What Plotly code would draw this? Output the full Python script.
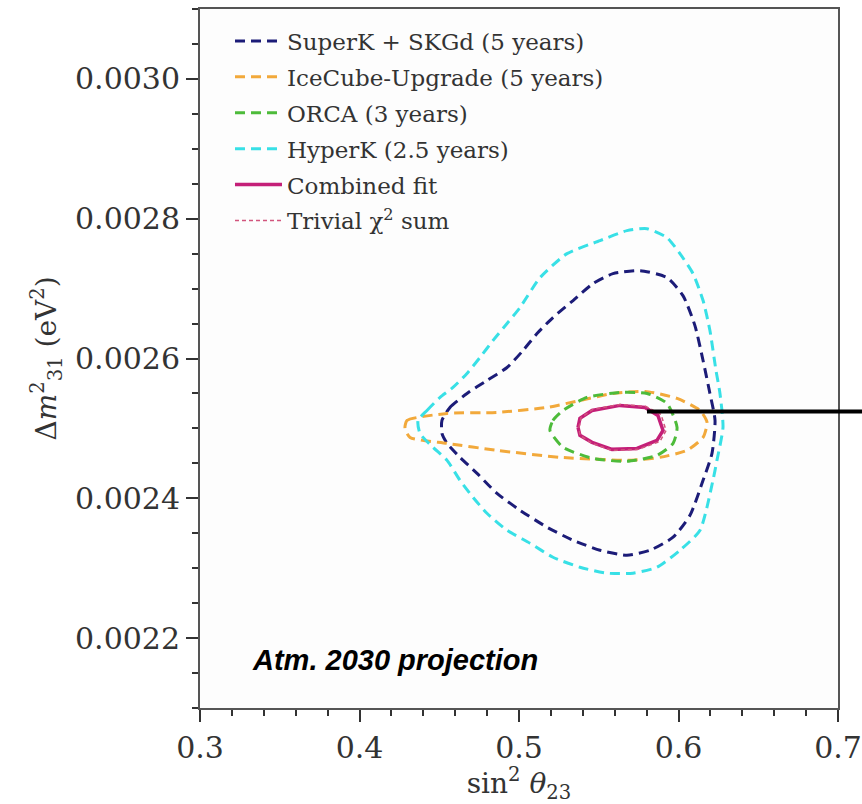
import plotly.graph_objects as go

# ---- data ----
hyperk_x = [0.4367, 0.4423, 0.4505, 0.4586, 0.4674, 0.4755, 0.4837, 0.4925, 0.5006, 0.5132,
            0.5301, 0.5508, 0.5677, 0.5803, 0.5928, 0.6009, 0.6091, 0.6154, 0.6197, 0.6235,
            0.6260, 0.6279, 0.6241, 0.6216, 0.6135, 0.6009, 0.5865, 0.5715, 0.5552, 0.5382,
            0.5213, 0.5069, 0.4925, 0.4799, 0.4712, 0.4630, 0.4549, 0.4461, 0.4379, 0.4367]
hyperk_y = [0.0025114, 0.0025257, 0.0025443, 0.0025586, 0.0025786, 0.0026014, 0.0026257, 0.0026500,
            0.0026729, 0.0027157, 0.0027500, 0.0027686, 0.0027829, 0.0027857, 0.0027729, 0.0027500,
            0.0027214, 0.0026829, 0.0026400, 0.0025829, 0.0025500, 0.0025014, 0.0024543, 0.0024257,
            0.0023543, 0.0023257, 0.0023014, 0.0022929, 0.0022929, 0.0023014, 0.0023157, 0.0023357,
            0.0023543, 0.0023786, 0.0024014, 0.0024257, 0.0024543, 0.0024729, 0.0024929, 0.0025114]

superk_x = [0.4517, 0.4567, 0.4674, 0.4799, 0.4925, 0.5025, 0.5113, 0.5213, 0.5339, 0.5464,
            0.5589, 0.5759, 0.5928, 0.6028, 0.6103, 0.6154, 0.6197, 0.6229, 0.6210, 0.6154,
            0.6072, 0.5966, 0.5821, 0.5677, 0.5508, 0.5339, 0.5176, 0.5006, 0.4862, 0.4737,
            0.4630, 0.4549, 0.4517, 0.4517]
superk_y = [0.0025114, 0.0025300, 0.0025500, 0.0025686, 0.0025871, 0.0026114, 0.0026357, 0.0026586,
            0.0026829, 0.0027071, 0.0027214, 0.0027257, 0.0027157, 0.0026900, 0.0026471, 0.0025971,
            0.0025500, 0.0025114, 0.0024643, 0.0024257, 0.0023757, 0.0023443, 0.0023257, 0.0023186,
            0.0023257, 0.0023400, 0.0023586, 0.0023829, 0.0024071, 0.0024357, 0.0024586, 0.0024786,
            0.0024929, 0.0025114]

icecube_x = [0.4285, 0.4298, 0.4549, 0.4862, 0.5176, 0.5382, 0.5589, 0.5790, 0.5991, 0.6135,
             0.6179, 0.6154, 0.6053, 0.5884, 0.5677, 0.5508, 0.5257, 0.4862, 0.4549, 0.4317, 0.4285]
icecube_y = [0.0025000, 0.0025114, 0.0025214, 0.0025229, 0.0025300, 0.0025400, 0.0025500, 0.0025529,
             0.0025429, 0.0025257, 0.0025086, 0.0024871, 0.0024686, 0.0024586, 0.0024543, 0.0024557,
             0.0024586, 0.0024686, 0.0024786, 0.0024871, 0.0025000]

orca_x = [0.5194, 0.5213, 0.5276, 0.5426, 0.5633, 0.5803, 0.5928, 0.5991, 0.5966, 0.5865,
          0.5677, 0.5464, 0.5276, 0.5194]
orca_y = [0.0024971, 0.0025114, 0.0025257, 0.0025443, 0.0025514, 0.0025500, 0.0025357, 0.0025014,
          0.0024786, 0.0024614, 0.0024529, 0.0024571, 0.0024729, 0.0024971]

combined_x = [0.5370, 0.5382, 0.5458, 0.5633, 0.5790, 0.5871, 0.5903, 0.5865, 0.5740, 0.5583,
              0.5458, 0.5382, 0.5370]
combined_y = [0.0025014, 0.0025143, 0.0025257, 0.0025329, 0.0025300, 0.0025186, 0.0024971, 0.0024829,
              0.0024714, 0.0024700, 0.0024800, 0.0024900, 0.0025014]

trivial_x = [0.5376, 0.5389, 0.5464, 0.5633, 0.5796, 0.5890, 0.5922, 0.5884, 0.5746, 0.5583,
             0.5458, 0.5382, 0.5376]
trivial_y = [0.0025014, 0.0025157, 0.0025271, 0.0025343, 0.0025314, 0.0025200, 0.0024971, 0.0024814,
             0.0024700, 0.0024686, 0.0024786, 0.0024900, 0.0025014]

series_names = ["SuperK + SKGd (5 years)", "IceCube-Upgrade (5 years)", "ORCA (3 years)",
                "HyperK (2.5 years)", "Combined fit", "Trivial χ<sup>2</sup> sum"]

# pointer line (black) at the combined-fit level
pointer_y = 0.0025243
pointer_x_paper = [0.7006, 1.04]

x_tick_vals = [0.3, 0.4, 0.5, 0.6, 0.7]
y_tick_vals = [0.0022, 0.0024, 0.0026, 0.0028, 0.0030]

SERIF = "DejaVu Serif"

fig = go.Figure()

specs = [
    (superk_x, superk_y, series_names[0], "#1c1c78", 3, "10px,6px", "spline"),
    (icecube_x, icecube_y, series_names[1], "#f2a93b", 3, "10px,6px", "spline"),
    (orca_x, orca_y, series_names[2], "#4dbb3a", 3, "10px,6px", "spline"),
    (hyperk_x, hyperk_y, series_names[3], "#38e0e6", 3, "10px,6px", "spline"),
    (combined_x, combined_y, series_names[4], "#c41f78", 3.5, "solid", "linear"),
    (trivial_x, trivial_y, series_names[5], "#d2557d", 1.5, "4px,3px", "linear"),
]
for i, (xs, ys, name, color, w, dash, shape) in enumerate(specs):
    fig.add_trace(go.Scatter(
        x=xs, y=ys, name=name, mode="lines",
        line=dict(color=color, width=w, dash=dash, shape=shape, smoothing=0.6),
        legendgroup=f"g{i}",
    ))

fig.add_shape(type="line", xref="paper", yref="y",
              x0=pointer_x_paper[0], x1=pointer_x_paper[1], y0=pointer_y, y1=pointer_y,
              line=dict(color="black", width=4))

fig.add_annotation(
    text="<b><i>Atm. 2030 projection</i></b>", xref="paper", yref="paper",
    x=0.0784, y=0.0687, xanchor="left", yanchor="middle", showarrow=False,
    font=dict(family="Liberation Sans", size=29, color="black"))

axis_common = dict(
    showgrid=False, zeroline=False, showline=True, linecolor="#555555", linewidth=2,
    mirror=True, ticks="outside", ticklen=12, tickwidth=1.5, tickcolor="#333333",
    tickfont=dict(family=SERIF, size=30, color="#333333"), automargin=False,
)

fig.update_xaxes(
    range=[0.3, 0.7], tickvals=x_tick_vals, tickformat=".1f",
    minor=dict(ticks="outside", ticklen=6, dtick=0.02, tickwidth=1.5, tickcolor="#333333"),
    title=dict(text="sin<sup>2</sup> <i>θ</i><sub>23</sub>",
               font=dict(family=SERIF, size=28, color="#333333"), standoff=8),
    **axis_common)
fig.update_yaxes(
    range=[0.0021, 0.0031], tickvals=y_tick_vals, tickformat=".4f",
    minor=dict(ticks="outside", ticklen=6, dtick=0.00005, tickwidth=1.5, tickcolor="#333333"),
    title=dict(text="Δ<i>m</i><sup>2</sup><sub>31</sub> (eV<sup>2</sup>)",
               font=dict(family=SERIF, size=28, color="#333333"), standoff=10),
    **axis_common)

fig.update_layout(
    width=862, height=804,
    margin=dict(l=200, r=24, t=9, b=96, autoexpand=False),
    paper_bgcolor="white", plot_bgcolor="#fdfdfd",
    legend=dict(x=0.047, y=0.985, xanchor="left", yanchor="top",
                font=dict(family=SERIF, size=23, color="#333333"),
                bgcolor="rgba(0,0,0,0)", itemwidth=47, tracegroupgap=3),
    showlegend=True,
)

fig.write_html("out.html")
